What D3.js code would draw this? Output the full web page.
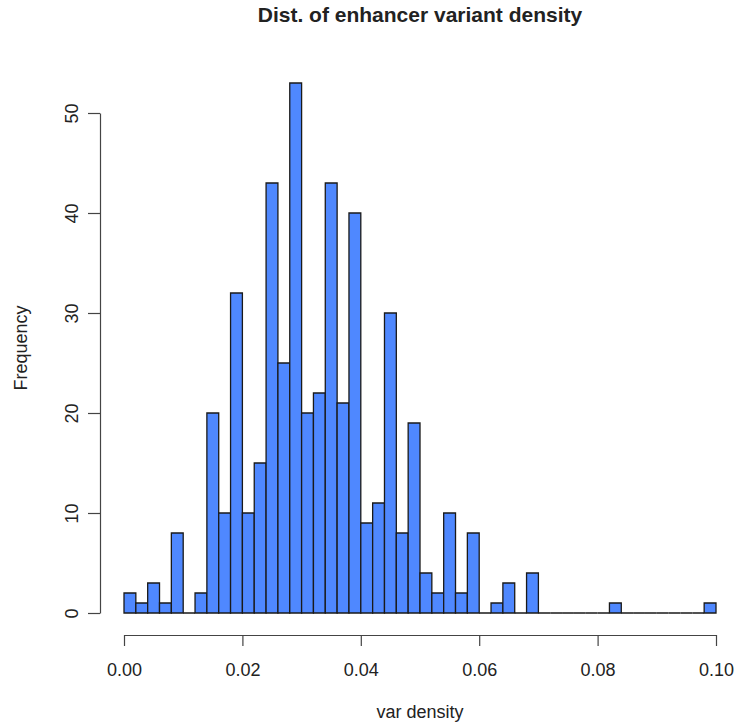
<!DOCTYPE html>
<html>
<head>
<meta charset="utf-8">
<script src="https://cdn.jsdelivr.net/npm/d3@7"></script>
<style>
  html, body { margin: 0; padding: 0; background: #fff; }
  svg { display: block; }
  text { font-family: "Liberation Sans", Arial, Helvetica, sans-serif; fill: #222; }
</style>
</head>
<body>
<script>
// Histogram of enhancer variant density: 50 bins of width 0.002 on [0, 0.1]
const binStart = 0;
const binWidth = 0.002;
const counts = [
  2, 1, 3, 1, 8, 0, 2, 20, 10, 32,
  10, 15, 43, 25, 53, 20, 22, 43, 21, 40,
  9, 11, 30, 8, 19, 4, 2, 10, 2, 8,
  0, 1, 3, 0, 4, 0, 0, 0, 0, 0,
  0, 1, 0, 0, 0, 0, 0, 0, 0, 1
];
const xTicks = [0, 0.02, 0.04, 0.06, 0.08, 0.10];
const yTicks = [0, 10, 20, 30, 40, 50];
const title = "Dist. of enhancer variant density";
const xLabel = "var density";
const yLabel = "Frequency";

const W = 736, H = 724;
const svg = d3.select("body").append("svg").attr("width", W).attr("height", H);

const x = d3.scaleLinear().domain([0, 0.1]).range([124, 716]);
const y = d3.scaleLinear().domain([0, 50]).range([613, 113]);

const bins = counts.map((c, i) => ({ x0: binStart + i * binWidth, x1: binStart + (i + 1) * binWidth, n: c }));

// bars drawn as closed paths so empty bins still show as a baseline segment
svg.append("g").selectAll("path").data(bins).join("path")
  .attr("d", d => {
    const p = d3.path();
    p.moveTo(x(d.x0), y(0));
    p.lineTo(x(d.x0), y(d.n));
    p.lineTo(x(d.x1), y(d.n));
    p.lineTo(x(d.x1), y(0));
    p.closePath();
    return p.toString();
  })
  .attr("fill", "#4f88ff")
  .attr("stroke", "#1a1a1a")
  .attr("stroke-width", 1.3);

// x axis
const xAxis = svg.append("g").attr("transform", "translate(0,635)")
  .call(d3.axisBottom(x).tickValues(xTicks).tickFormat(d3.format(".2f")).tickSize(11).tickSizeOuter(0).tickPadding(0));
xAxis.selectAll("path, line").attr("stroke", "#444").attr("stroke-width", 1.2);
xAxis.selectAll("text").attr("font-size", 18).attr("fill", "#222")
  .attr("font-family", '"Liberation Sans", Arial, sans-serif')
  .attr("dy", null).attr("y", 41);

// y axis
const yAxis = svg.append("g").attr("transform", "translate(100,0)")
  .call(d3.axisLeft(y).tickValues(yTicks).tickSize(12).tickSizeOuter(0));
yAxis.selectAll("path, line").attr("stroke", "#444").attr("stroke-width", 1.2);
yAxis.selectAll("text")
  .attr("font-size", 18).attr("fill", "#222")
  .attr("font-family", '"Liberation Sans", Arial, sans-serif')
  .attr("x", null).attr("dy", null)
  .attr("text-anchor", "middle")
  .attr("transform", "translate(-28,0) rotate(-90)")
  .attr("y", 0).attr("dy", "0.35em");

// titles
svg.append("text").attr("x", 420).attr("y", 22).attr("text-anchor", "middle")
  .attr("font-size", 21).attr("font-weight", "bold").attr("fill", "#000").text(title);
svg.append("text").attr("x", 420).attr("y", 718).attr("text-anchor", "middle")
  .attr("font-size", 18).text(xLabel);
svg.append("text").attr("transform", "translate(27,348) rotate(-90)").attr("text-anchor", "middle")
  .attr("font-size", 18).text(yLabel);
</script>
</body>
</html>
